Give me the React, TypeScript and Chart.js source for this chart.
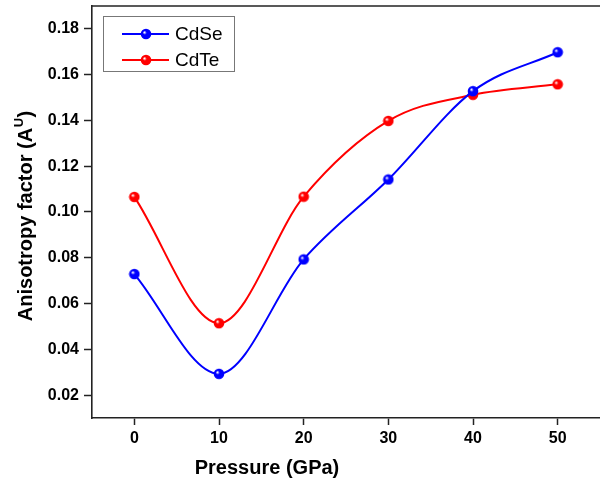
import React, { useEffect, useRef } from "react";
import { Chart, registerables } from "chart.js";
Chart.register(...registerables);

const pressures = [0, 10, 20, 30, 40, 50];
const cdseValues = [0.0729, 0.0293, 0.0793, 0.1142, 0.1528, 0.1698];
const cdteValues = [0.1066, 0.0514, 0.1067, 0.1398, 0.1512, 0.1558];
const xTickValues = [0, 10, 20, 30, 40, 50];
const yTickValues = [0.02, 0.04, 0.06, 0.08, 0.1, 0.12, 0.14, 0.16, 0.18];
const seriesNames = ["CdSe", "CdTe"];
const seriesColors = ["#0000FF", "#FF0000"];
const xTitle = "Pressure (GPa)";
const yTitleMain = "Anisotropy factor (A";
const yTitleSup = "U";
const yTitleEnd = ")";

function makeBall(color: string): HTMLCanvasElement {
  const c = document.createElement("canvas");
  c.width = 12;
  c.height = 12;
  const g = c.getContext("2d")!;
  const grad = g.createRadialGradient(4.3, 4.3, 0.3, 6, 6, 6);
  grad.addColorStop(0, "#ffffff");
  grad.addColorStop(0.3, color);
  grad.addColorStop(0.85, color);
  grad.addColorStop(1, color);
  g.fillStyle = grad;
  g.beginPath();
  g.arc(6, 6, 5.3, 0, Math.PI * 2);
  g.fill();
  return c;
}

export default function App() {
  const ref = useRef<HTMLCanvasElement | null>(null);
  useEffect(() => {
    document.body.style.margin = "0";
    const balls = seriesColors.map(makeBall);
    const seriesData = [cdseValues, cdteValues];

    const decorPlugin = {
      id: "decor",
      afterDraw(chart: any) {
        const ctx = chart.ctx;
        const a = chart.chartArea;
        ctx.save();
        // top frame line
        ctx.strokeStyle = "#222";
        ctx.lineWidth = 1.6;
        ctx.beginPath();
        ctx.moveTo(a.left, a.top);
        ctx.lineTo(a.right, a.top);
        ctx.stroke();

        // x title
        ctx.fillStyle = "#000";
        ctx.font = "bold 20px Arial, 'Liberation Sans', sans-serif";
        ctx.textAlign = "center";
        ctx.textBaseline = "middle";
        ctx.fillText(xTitle, 267, 468);

        // y title with superscript
        ctx.save();
        ctx.translate(25, 216);
        ctx.rotate(-Math.PI / 2);
        const fMain = "bold 20px Arial, 'Liberation Sans', sans-serif";
        const fSup = "bold 13px Arial, 'Liberation Sans', sans-serif";
        ctx.font = fMain;
        const w1 = ctx.measureText(yTitleMain).width;
        const w3 = ctx.measureText(yTitleEnd).width;
        ctx.font = fSup;
        const w2 = ctx.measureText(yTitleSup).width;
        const total = w1 + w2 + w3 + 1;
        let x = -total / 2;
        ctx.textAlign = "left";
        ctx.textBaseline = "alphabetic";
        ctx.font = fMain;
        ctx.fillText(yTitleMain, x, 7);
        x += w1 + 0.5;
        ctx.font = fSup;
        ctx.fillText(yTitleSup, x, -2);
        x += w2 + 0.5;
        ctx.font = fMain;
        ctx.fillText(yTitleEnd, x, 7);
        ctx.restore();

        // legend
        ctx.fillStyle = "#fff";
        ctx.fillRect(103.5, 16.5, 131, 55);
        ctx.strokeStyle = "#777";
        ctx.lineWidth = 1;
        ctx.strokeRect(103.5, 16.5, 131, 55);
        seriesNames.forEach((name, i) => {
          const y = 34 + i * 26;
          ctx.strokeStyle = seriesColors[i];
          ctx.lineWidth = 2;
          ctx.beginPath();
          ctx.moveTo(122, y);
          ctx.lineTo(169, y);
          ctx.stroke();
          ctx.drawImage(balls[i], 146 - 6, y - 6);
          ctx.fillStyle = "#000";
          ctx.font = "19px Arial, 'Liberation Sans', sans-serif";
          ctx.textAlign = "left";
          ctx.textBaseline = "middle";
          ctx.fillText(name, 175, y + 1);
        });
        ctx.restore();
      },
    };

    const chart = new Chart(ref.current!, {
      type: "line",
      data: {
        datasets: seriesNames.map((name, i) => ({
          label: name,
          data: pressures.map((p, j) => ({ x: p, y: seriesData[i][j] })),
          borderColor: seriesColors[i],
          backgroundColor: seriesColors[i],
          borderWidth: 2,
          cubicInterpolationMode: "monotone" as const,
          pointStyle: balls[i],
          pointRadius: 5,
          fill: false,
        })),
      },
      options: {
        responsive: false,
        animation: false,
        layout: { autoPadding: false, padding: { top: 6, right: 0, left: 0, bottom: 0 } },
        plugins: {
          legend: { display: false },
          tooltip: { enabled: false },
        },
        scales: {
          x: {
            type: "linear",
            min: -5,
            max: 55,
            afterBuildTicks: (s: any) => {
              s.ticks = xTickValues.map((v) => ({ value: v }));
            },
            afterFit: (s: any) => {
              s.height = 68;
              s.paddingLeft = 0;
              s.paddingRight = 0;
              s.paddingTop = 0;
              s.paddingBottom = 0;
            },
            grid: {
              drawOnChartArea: false,
              drawTicks: true,
              tickLength: 7,
              tickWidth: 1.5,
              tickColor: "#222",
            },
            border: { display: true, color: "#222", width: 1.6 },
            ticks: {
              color: "#000",
              padding: 4,
              maxRotation: 0,
              font: { family: "Arial, 'Liberation Sans', sans-serif", size: 16, weight: "bold" },
              callback: (v: any) => String(v),
            },
          },
          y: {
            type: "linear",
            min: 0.01,
            max: 0.19,
            afterBuildTicks: (s: any) => {
              s.ticks = yTickValues.map((v) => ({ value: v }));
            },
            afterFit: (s: any) => {
              s.width = 92;
              s.paddingLeft = 0;
              s.paddingRight = 0;
              s.paddingTop = 0;
              s.paddingBottom = 0;
            },
            grid: {
              drawOnChartArea: false,
              drawTicks: true,
              tickLength: 8,
              tickWidth: 1.5,
              tickColor: "#222",
            },
            border: { display: true, color: "#222", width: 1.6 },
            ticks: {
              color: "#000",
              padding: 5,
              font: { family: "Arial, 'Liberation Sans', sans-serif", size: 16, weight: "bold" },
              callback: (v: any) => Number(v).toFixed(2),
            },
          },
        },
      },
      plugins: [decorPlugin],
    });
    return () => chart.destroy();
  }, []);

  return (
    <div style={{ width: 600, height: 486 }}>
      <canvas ref={ref} width={600} height={486} style={{ display: "block" }} />
    </div>
  );
}
